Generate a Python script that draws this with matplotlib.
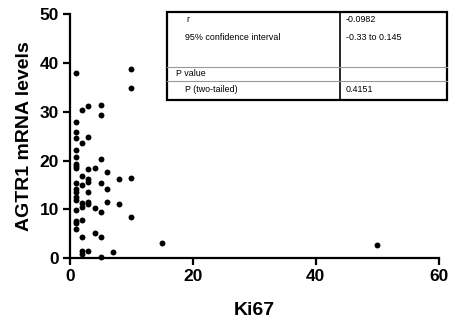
import matplotlib.pyplot as plt

plt.rcParams['font.family'] = ['Liberation Sans', 'DejaVu Sans']

# 数据
ki67 = [1, 10, 10, 2, 3, 5, 5, 1, 1, 1, 2, 3, 1, 1, 5, 1, 1, 1, 3, 4,
        2, 6, 3, 3, 1, 2, 5, 8, 10, 1, 6, 1, 3, 1, 1, 2, 2, 3, 3, 6,
        8, 4, 1, 5, 10, 1, 1, 2, 1, 2, 4, 5, 15, 2, 2, 3, 7, 5, 50]
agtr1 = [38.0, 38.75, 34.9, 30.4, 31.2, 31.45, 29.3, 27.8, 25.9, 24.6, 23.5, 24.9, 22.2, 20.7, 20.3, 19.3, 18.8, 18.4, 18.3, 18.4,
         16.85, 17.6, 16.3, 15.7, 15.5, 15.1, 15.5, 16.2, 16.5, 14.1, 14.2, 13.5, 13.6, 12.6, 11.9, 11.4, 10.6, 11.6, 11.1, 11.6,
         11.2, 10.2, 9.9, 9.5, 8.4, 7.6, 7.2, 7.8, 5.9, 4.3, 5.1, 4.3, 3.2, 1.4, 0.9, 1.55, 1.3, 0.35, 2.8]

row_labels = ['r', '95% confidence interval', 'P value', 'P (two-tailed)']
row_values = ['-0.0982', '-0.33 to 0.145', '', '0.4151']

fig = plt.figure(figsize=(4.5, 3.23), dpi=100)
ax = fig.add_axes([0.1556, 0.2003, 0.8194, 0.7564])
ax.scatter(ki67, agtr1, s=18, color='black', linewidths=0, clip_on=False, zorder=3)
ax.set_xlim(0, 60)
ax.set_ylim(0, 50)
ax.set_xticks([0, 20, 40, 60])
ax.set_yticks([0, 10, 20, 30, 40, 50])
for s in ['top', 'right']:
    ax.spines[s].set_visible(False)
for s in ['left', 'bottom']:
    ax.spines[s].set_linewidth(1.6)
ax.tick_params(width=1.6, length=5, labelsize=12.5, pad=3)
for lab in ax.get_xticklabels() + ax.get_yticklabels():
    lab.set_fontweight('bold')
ax.set_xlabel('Ki67', fontsize=14, fontweight='bold', labelpad=13)
ax.set_ylabel('AGTR1 mRNA levels', fontsize=14, fontweight='bold', labelpad=5)

# 结果表格 (像素坐标 -> figure 坐标)
W, H = 450, 323
def fx(px):
    return px / W
def fy(py):
    return 1 - py / H

left, right, top, bottom, mid = 167, 447, 12, 100, 340
fig.add_artist(plt.Rectangle((fx(left), fy(bottom)), fx(right) - fx(left), fy(top) - fy(bottom),
                             transform=fig.transFigure, fill=True, facecolor='white',
                             edgecolor='black', linewidth=1.6, zorder=5))
fig.add_artist(plt.Line2D([fx(mid), fx(mid)], [fy(top), fy(bottom)], transform=fig.transFigure,
                          color='black', linewidth=1.2, zorder=6))
for yy in [66.5, 81]:
    fig.add_artist(plt.Line2D([fx(left), fx(right)], [fy(yy), fy(yy)], transform=fig.transFigure,
                              color='#999999', linewidth=0.8, zorder=6))

label_pos = [(186, 19), (185, 38), (176, 74), (185, 90)]
for (lx, ly), lab, val in zip(label_pos, row_labels, row_values):
    fig.text(fx(lx), fy(ly), lab, fontsize=6.4, va='center', ha='left', zorder=7)
    fig.text(fx(346), fy(ly), val, fontsize=6.4, va='center', ha='left', zorder=7)

fig.savefig('out.png', dpi=100)
